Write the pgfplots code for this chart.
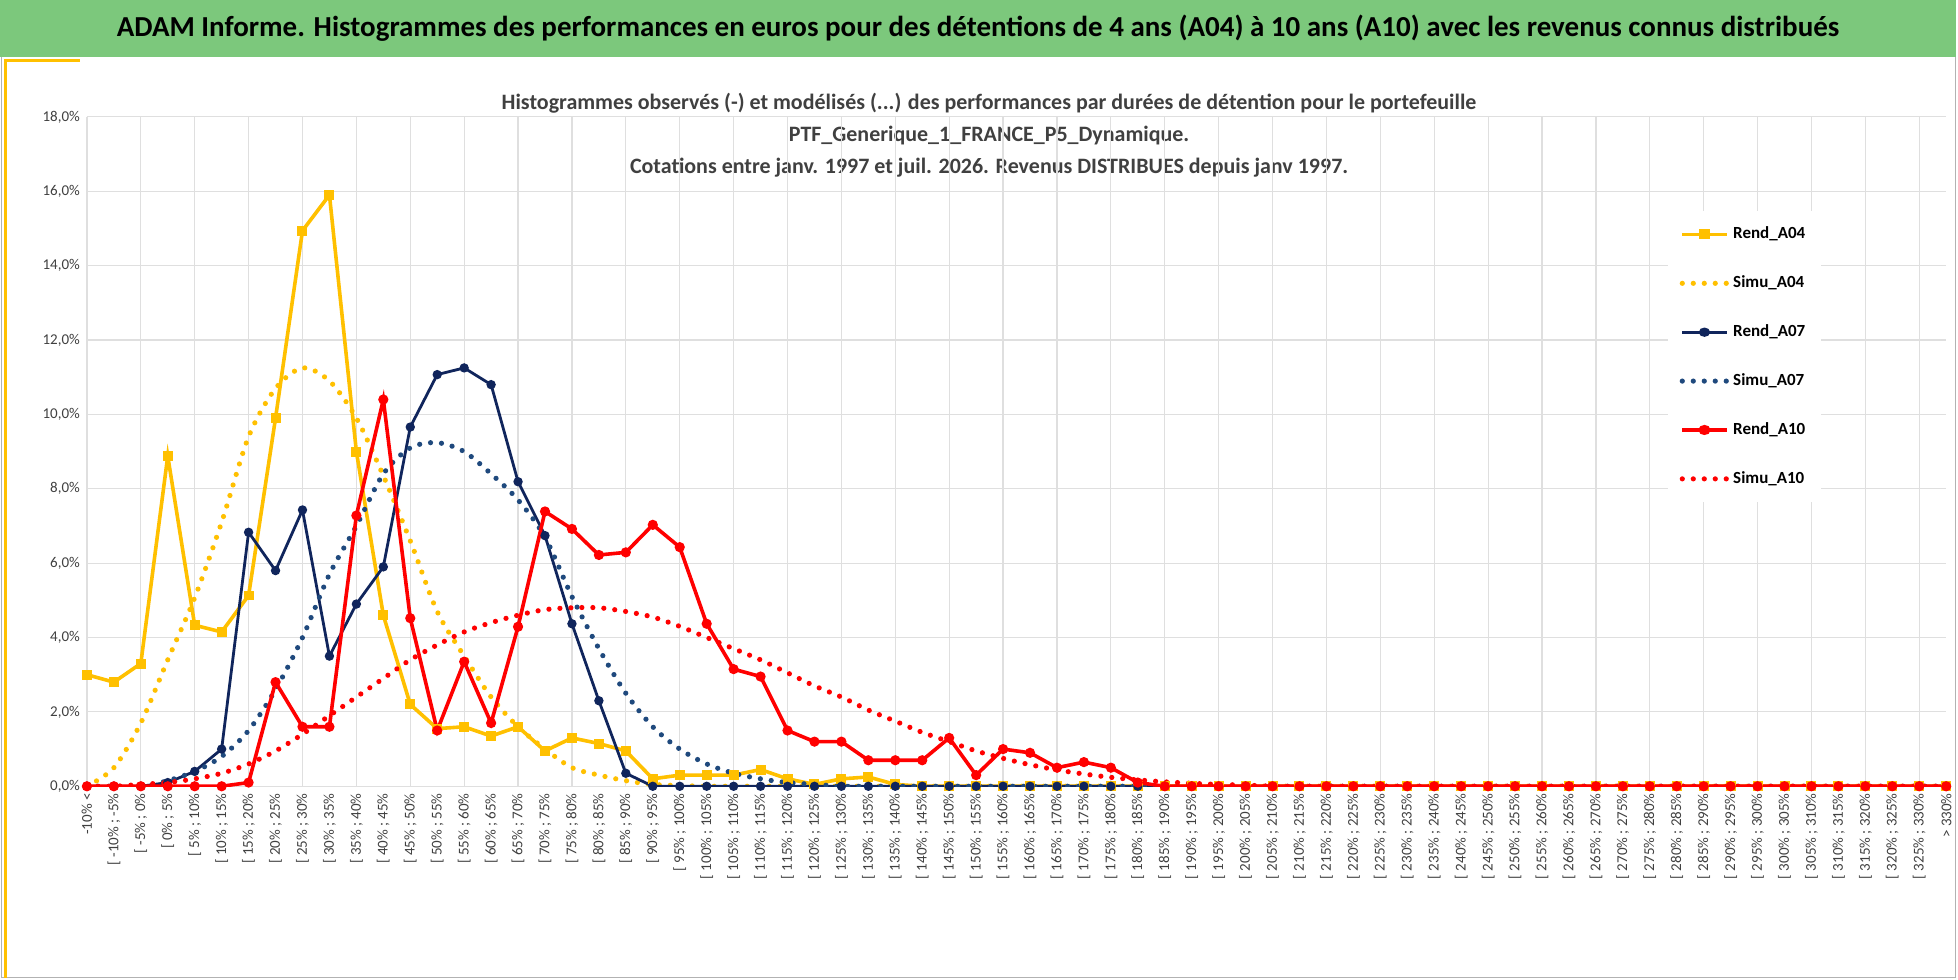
\documentclass[border=0pt]{standalone}
\usepackage{pgfplots}
\usepackage{pgfplotstable}
\pgfplotsset{compat=1.18}
\usepackage{fontspec}
\setmainfont{Carlito}
\definecolor{cY}{RGB}{255,192,0}
\definecolor{cN}{RGB}{16,37,92}
\definecolor{cS}{RGB}{31,73,125}
\definecolor{cR}{RGB}{255,0,0}
\definecolor{cG}{RGB}{124,200,124}
\pgfplotstableread{
x r04 s04 r07 s07 r10 s10
0 3.0 0 0 0 0 0
1 2.8 0.5 0 0 0 0
2 3.3 1.7 0 0 0 0.05
3 8.88 3.4 0.1 0.15 0 0.1
4 4.33 5.07 0.4 0.4 0 0.2
5 4.15 7.1 1.0 0.8 0 0.35
6 5.13 9.4 6.83 1.5 0.1 0.6
7 9.9 10.7 5.8 2.6 2.8 0.95
8 14.94 11.25 7.43 4.0 1.6 1.4
9 15.9 10.9 3.5 5.7 1.6 1.9
10 9.0 9.9 4.9 7.0 7.28 2.4
11 4.6 8.35 5.9 8.4 10.4 2.9
12 2.2 6.6 9.66 9.1 4.52 3.4
13 1.55 4.7 11.07 9.24 1.5 3.8
14 1.6 3.5 11.25 9.0 3.35 4.15
15 1.35 2.4 10.8 8.4 1.7 4.4
16 1.6 1.6 8.19 7.7 4.29 4.6
17 0.95 1.0 6.74 6.7 7.39 4.75
18 1.3 0.5 4.37 5.1 6.92 4.8
19 1.15 0.3 2.3 3.7 6.22 4.8
20 0.95 0.15 0.35 2.5 6.29 4.7
21 0.2 0.05 0 1.6 7.03 4.55
22 0.3 0.02 0 1.0 6.43 4.3
23 0.3 0 0 0.6 4.37 4.0
24 0.3 0 0 0.35 3.15 3.7
25 0.45 0 0 0.2 2.95 3.4
26 0.2 0 0 0.1 1.5 3.05
27 0.05 0 0 0.05 1.2 2.7
28 0.2 0 0 0 1.2 2.4
29 0.25 0 0 0 0.7 2.05
30 0.05 0 0 0 0.7 1.75
31 0 0 0 0 0.7 1.45
32 0 0 0 0 1.3 1.2
33 0 0 0 0 0.3 0.95
34 0 0 0 0 1.0 0.75
35 0 0 0 0 0.9 0.58
36 0 0 0 0 0.5 0.44
37 0 0 0 0 0.65 0.33
38 0 0 0 0 0.5 0.24
39 0 0 0 0 0.1 0.17
40 0 0 0 0 0 0.12
41 0 0 0 0 0 0.08
42 0 0 0 0 0 0.05
43 0 0 0 0 0 0.03
44 0 0 0 0 0 0
45 0 0 0 0 0 0
46 0 0 0 0 0 0
47 0 0 0 0 0 0
48 0 0 0 0 0 0
49 0 0 0 0 0 0
50 0 0 0 0 0 0
51 0 0 0 0 0 0
52 0 0 0 0 0 0
53 0 0 0 0 0 0
54 0 0 0 0 0 0
55 0 0 0 0 0 0
56 0 0 0 0 0 0
57 0 0 0 0 0 0
58 0 0 0 0 0 0
59 0 0 0 0 0 0
60 0 0 0 0 0 0
61 0 0 0 0 0 0
62 0 0 0 0 0 0
63 0 0 0 0 0 0
64 0 0 0 0 0 0
65 0 0 0 0 0 0
66 0 0 0 0 0 0
67 0 0 0 0 0 0
68 0 0 0 0 0 0
69 0 0 0 0 0 0
}\data
\begin{document}
\begin{tikzpicture}[x=1pt,y=1pt]
\fill[white] (0,0) rectangle (979,489.5);
\draw[gray!60] (0.5,0.5) rectangle (978.5,489);
\fill[cG] (0,461) rectangle (979,489.5);
\node[font=\fontsize{14.5}{16}\selectfont\bfseries] at (489.5,475.5) {ADAM Informe. Histogrammes des performances en euros pour des détentions de 4 ans (A04) à 10 ans (A10) avec les revenus connus distribués};
\draw[cY,line width=1.5pt] (3,0) -- (3,459) -- (40,459);
\node[font=\fontsize{11}{12}\selectfont\bfseries,text=black!75,align=center] at (495,422) {Histogrammes observés (-) et modélisés (...) des performances par durées de détention pour le portefeuille\\[4pt] PTF\_Generique\_1\_FRANCE\_P5\_Dynamique.\\[4pt] Cotations  entre janv. 1997 et juil. 2026. Revenus DISTRIBUES depuis janv 1997.};
\begin{axis}[at={(43.5pt,96pt)},anchor=origin,scale only axis,width=930.5pt,height=335pt,
 xmin=0,xmax=69,ymin=0,ymax=18,
 axis line style={draw=none},axis x line*=bottom,
 xtick={0,...,69},major tick length=0pt,
 extra x ticks={0,2,...,68},extra x tick labels={},extra x tick style={grid=major,major tick length=0pt},
 major grid style={gray!25,line width=0.6pt},
 ytick={0,2,...,18},ymajorgrids,
 /pgf/number format/assume math mode=true,
 yticklabel={\pgfmathprintnumber[fixed,fixed zerofill,precision=1,use comma,assume math mode=true]{\tick}\%},
 xticklabel={\pgfmathtruncatemacro\ti{\tick}\pgfmathtruncatemacro\a{5*\ti-15}\pgfmathtruncatemacro\b{\a+5}\ifnum\ti=0 -10\% <\else\ifnum\ti=69 > 330\%\else[ \a\% ; \b\%\fi\fi},
 x tick label style={rotate=90,anchor=east,font=\fontsize{7.5}{8}\selectfont,text=black!75},
 y tick label style={font=\fontsize{7.5}{8}\selectfont,text=black!75},
 legend style={at={(0.85,0.86)},anchor=north west,draw=none,fill=white,font=\fontsize{8.5}{10}\selectfont\bfseries,row sep=13pt,inner sep=6pt},
 legend cell align=left,
 legend image post style={xscale=1.3},
]
\addplot[cY,line width=1.8pt,mark=square*,mark size=1.6pt] table[x=x,y=r04]{\data};
\addlegendentry{Rend\_A04}
\addplot[cY,line width=2.6pt,smooth,line cap=round,dash pattern=on 0pt off 5.5pt] table[x=x,y=s04]{\data};
\addlegendentry{Simu\_A04}
\addplot[cN,line width=1.4pt,mark=*,mark size=1.6pt] table[x=x,y=r07]{\data};
\addlegendentry{Rend\_A07}
\addplot[cS,line width=2.6pt,smooth,line cap=round,dash pattern=on 0pt off 5.5pt] table[x=x,y=s07]{\data};
\addlegendentry{Simu\_A07}
\addplot[cR,line width=1.8pt,mark=*,mark size=1.6pt] table[x=x,y=r10]{\data};
\addlegendentry{Rend\_A10}
\addplot[cR,line width=2.6pt,smooth,line cap=round,dash pattern=on 0pt off 5.5pt] table[x=x,y=s10]{\data};
\addlegendentry{Simu\_A10}
\end{axis}
\end{tikzpicture}
\end{document}
